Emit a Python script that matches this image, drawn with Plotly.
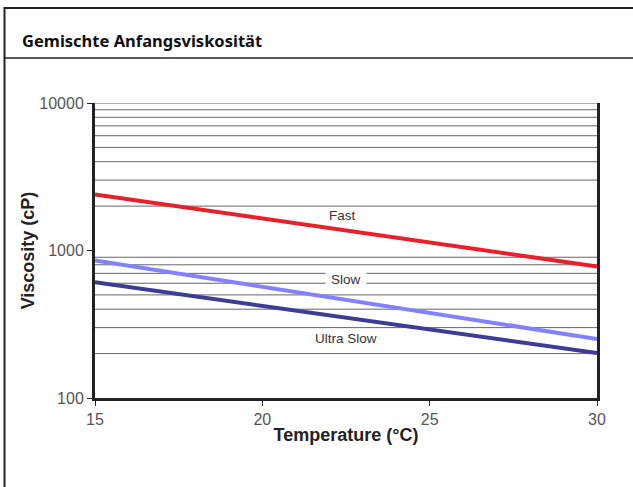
import plotly.graph_objects as go
import math

temps = [15, 30]
fast = [2400, 780]
slow = [855, 251]
ultra_slow = [609, 202]

series_names = ["Fast", "Slow", "Ultra Slow"]
series_vals = [fast, slow, ultra_slow]
series_colors = ["#E8202A", "#8282FF", "#3D3D96"]

x_ticks = [15, 20, 25, 30]
y_ticks = [100, 1000, 10000]
y_ticklabels = ["100", "1000", "10000"]
minor_grid = [m * 10 ** k for k in (2, 3) for m in range(2, 10)] + [10000]

label_x = [22.4, 22.5, 22.5]
label_y = [1730, 640, 252]

fig = go.Figure()
for name, vals, col in zip(series_names, series_vals, series_colors):
    fig.add_trace(go.Scatter(x=temps, y=vals, mode="lines", name=name,
                             line=dict(color=col, width=4), showlegend=False))

W, H = 633, 487
ml, mr, mt, mb = 95, 36, 103, 89
pw, ph = W - ml - mr, H - mt - mb

def px(x):
    return (x - ml) / pw

def py(y):
    return (H - mb - y) / ph

shapes = []
for g in minor_grid:
    shapes.append(dict(type="line", xref="paper", yref="y", x0=0, x1=1, y0=g, y1=g,
                       line=dict(color="#666", width=1), layer="below"))
# outer frame
shapes.append(dict(type="line", xref="paper", yref="paper", x0=px(4.5), x1=px(645), y0=py(8), y1=py(8),
                   line=dict(color="#222", width=2)))
shapes.append(dict(type="line", xref="paper", yref="paper", x0=px(4.5), x1=px(4.5), y0=py(7), y1=py(500),
                   line=dict(color="#222", width=2)))
shapes.append(dict(type="line", xref="paper", yref="paper", x0=px(4), x1=px(645), y0=py(58), y1=py(58),
                   line=dict(color="#222", width=1.5)))

annotations = []
for name, lx, ly in zip(series_names, label_x, label_y):
    annotations.append(dict(x=lx, y=math.log10(ly), xref="x", yref="y", text=name, showarrow=False,
                            font=dict(family="Liberation Sans", size=13.5, color="#333"),
                            bgcolor="white" if name == "Slow" else "rgba(0,0,0,0)", borderpad=5))
annotations.append(dict(x=px(20), y=py(40), xref="paper", yref="paper", xanchor="left", yanchor="middle",
                        text="<b>Gemischte Anfangsviskosität</b>", showarrow=False,
                        font=dict(family="Noto Sans", size=16.5, color="#111")))

fig.update_layout(
    width=W, height=H, margin=dict(l=ml, r=mr, t=mt, b=mb),
    paper_bgcolor="white", plot_bgcolor="white",
    shapes=shapes, annotations=annotations,
    xaxis=dict(range=[15, 30], tickvals=x_ticks, ticks="outside", ticklen=5, tickcolor="#222",
               showgrid=False, zeroline=False, showline=True, linecolor="#222", linewidth=3,
               tickfont=dict(family="Liberation Sans", size=16, color="#555"),
               title=dict(text="<b>Temperature (°C)</b>", standoff=2,
                          font=dict(family="Liberation Sans", size=18, color="#222"))),
    yaxis=dict(type="log", range=[2, 4], tickvals=y_ticks, ticktext=y_ticklabels, ticks="outside",
               ticklen=5, tickcolor="#222", showgrid=False, zeroline=False, showline=True,
               linecolor="#222", linewidth=3, mirror=True,
               tickfont=dict(family="Liberation Sans", size=16, color="#555"),
               title=dict(text="<b>Viscosity (cP)</b>", standoff=0,
                          font=dict(family="Liberation Sans", size=18, color="#222"))),
)

fig.write_html("out.html", config={"displayModeBar": False},
               post_script="document.body.style.margin='0';")
